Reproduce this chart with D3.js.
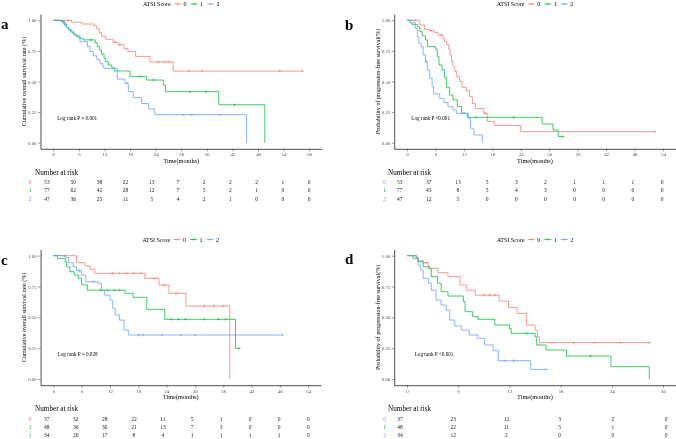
<!DOCTYPE html>
<html>
<head>
<meta charset="utf-8">
<script src="https://cdn.jsdelivr.net/npm/d3@7"></script>
<style>
  body { margin: 0; background: #fff; }
  svg { display: block; font-family: 'Liberation Serif', 'DejaVu Serif', serif; will-change: transform; }
</style>
</head>
<body>
<div id="chart-wrapper"></div>
<script>
// Groups and colours
const groups = ["0", "1", "2"]
const colors = ["#F8766D", "#00BA38", "#619CFF"]

// Panel a : overall survival, [month, survival] steps
const osA0 = [[0,1],[4.3,0.985],[6.6,0.97],[9.6,0.955],[10.2,0.93],[10.8,0.90],[11.3,0.87],[12.3,0.845],[14,0.82],[15.2,0.80],[16.6,0.77],[17.5,0.745],[19.3,0.705],[22.7,0.66],[28.1,0.585],[58.4,0.585]]
const osA1 = [[0,1],[1.95,0.99],[2.7,0.96],[3.1,0.943],[3.5,0.926],[4.1,0.907],[4.7,0.888],[5.3,0.872],[6.25,0.853],[7.0,0.84],[9.8,0.817],[10.3,0.785],[10.8,0.757],[11.3,0.725],[11.9,0.69],[12.3,0.662],[12.9,0.635],[13.7,0.613],[14.3,0.586],[18,0.54],[21.9,0.512],[25.8,0.471],[26.3,0.417],[38.8,0.31],[49.6,0]]
const osA2 = [[0,1],[1.4,0.995],[2.3,0.97],[3.1,0.943],[3.7,0.92],[4.3,0.9],[4.8,0.88],[5.6,0.86],[6.25,0.826],[8.0,0.785],[8.6,0.744],[9.4,0.71],[10.2,0.68],[10.9,0.65],[11.6,0.62],[11.9,0.607],[15,0.52],[16.8,0.485],[17.6,0.417],[18.75,0.368],[20.7,0.32],[22.3,0.275],[23.8,0.229],[45.3,0]]
const osA0Cens = [1.2,3.5,14.5,15.6,24.6,25.8,27,31.8,34.8,53.1,58.4]
const osA1Cens = [2.2,8.8,20.5,23.5,32,35.8,42.5]
const osA2Cens = [2.8,17.2,30.5,32.5,39]

// Panel b : progression-free survival
const pfsB0 = [[0,1],[2.7,0.962],[3.7,0.926],[4.8,0.915],[5.8,0.9],[6.5,0.88],[7.6,0.853],[7.9,0.826],[8.4,0.8],[8.8,0.763],[9.1,0.717],[9.4,0.662],[9.7,0.621],[10.1,0.58],[10.5,0.54],[11.1,0.5],[11.6,0.452],[12.5,0.425],[13.2,0.376],[13.8,0.32],[14.4,0.28],[16.2,0.24],[16.9,0.172],[18.5,0.14],[24,0.09],[52.3,0.09]]
const pfsB1 = [[0,1],[0.56,0.98],[1.05,0.967],[2.2,0.948],[2.7,0.907],[3.2,0.872],[3.9,0.84],[4.3,0.785],[6.0,0.763],[6.4,0.703],[6.75,0.635],[7.4,0.594],[7.9,0.534],[8.3,0.452],[9.0,0.39],[9.7,0.35],[10.6,0.294],[11.5,0.24],[12.7,0.207],[28.5,0.153],[30.8,0.104],[31.9,0.05],[32.9,0.05]]
const pfsB2 = [[0,1],[1.27,0.98],[1.76,0.935],[2.2,0.866],[2.5,0.812],[3.0,0.785],[3.4,0.717],[3.9,0.662],[4.3,0.594],[4.8,0.526],[5.3,0.458],[5.6,0.398],[6.9,0.362],[7.8,0.327],[8.65,0.294],[9.7,0.267],[10.4,0.24],[13.0,0.2],[13.4,0.117],[14.1,0.063],[15.9,0]]
const pfsB0Cens = [1.8,5.2,7.2,16.5,52.3]
const pfsB1Cens = [14.5,22.5,32.9]
const pfsB2Cens = [4.0,12.0]

// Panel c : overall survival
const osC0 = [[0,1],[4.9,0.943],[6.7,0.916],[7.8,0.889],[8.8,0.857],[19.4,0.816],[22.4,0.762],[24.5,0.695],[28.1,0.592],[37.4,0]]
const osC1 = [[0,1],[0.85,0.978],[2.5,0.951],[2.8,0.91],[3.5,0.87],[4.4,0.843],[5.3,0.816],[6.0,0.762],[7.2,0.72],[15.2,0.695],[16.9,0.662],[19.8,0.565],[23.6,0.484],[38.6,0.249],[39.4,0.249]]
const osC2 = [[0,1],[2.5,0.986],[3.2,0.943],[4.2,0.91],[4.9,0.878],[6.0,0.843],[6.9,0.789],[9.5,0.776],[10.2,0.72],[10.9,0.68],[12.0,0.64],[12.6,0.573],[13.1,0.519],[14.0,0.478],[15.0,0.397],[15.9,0.357],[48.6,0.357]]
const osC0Cens = [2.5,12.5,14,15.5,17,18.5,21.5,23.5,26,32,34,36]
const osC1Cens = [10,11.5,13,14,25,26.5,28,32,35,36.5,39.4]
const osC2Cens = [5.5,8.5,18,19,23,27,30,48.6]

// Panel d : progression-free survival
const pfsD0 = [[0,1],[1.1,0.986],[1.3,0.96],[1.9,0.943],[2.5,0.897],[3.6,0.862],[4.8,0.83],[6.2,0.762],[7.0,0.72],[8.0,0.68],[10.8,0.632],[11.9,0.58],[12.9,0.532],[14.0,0.438],[15.0,0.397],[15.3,0.343],[15.5,0.295],[28.4,0.295]]
const pfsD1 = [[0,1],[0.7,0.978],[1.3,0.95],[1.9,0.91],[2.7,0.89],[2.85,0.83],[3.6,0.776],[4.0,0.708],[4.8,0.673],[6.6,0.627],[6.8,0.546],[7.7,0.505],[8.3,0.484],[10.3,0.438],[12.0,0.41],[12.2,0.37],[15.0,0.343],[15.2,0.276],[16.3,0.235],[18.7,0.186],[23.9,0.1],[28.4,0]]
const pfsD2 = [[0,1],[1.1,0.986],[1.3,0.924],[1.6,0.884],[1.9,0.816],[2.5,0.776],[2.85,0.72],[3.4,0.64],[4.0,0.6],[4.6,0.557],[5.0,0.478],[5.6,0.43],[6.4,0.397],[7.3,0.357],[8.3,0.33],[9.1,0.276],[10.1,0.23],[10.7,0.149],[14.5,0.078],[16.3,0.078]]
const pfsD0Cens = [1.0,2.2,9,9.7,10.3,17,19.5,22,25,28.4]
const pfsD1Cens = [14.0,21.5]
const pfsD2Cens = [11.5,12.5,16.3]

// Tick labels
const ticksA = d3.range(0, 61, 6)
const ticksB = d3.range(0, 55, 6)
const ticksC = d3.range(0, 55, 6)
const ticksD = d3.range(0, 31, 6)
const yTicks = [0, 0.25, 0.5, 0.75, 1]

// Number at risk
const riskA = [[53,50,38,22,13,7,2,2,2,1,0],[77,62,42,28,12,7,5,2,1,0,0],[47,36,25,11,5,4,2,1,0,0,0]]
const riskB = [[53,37,13,5,3,2,1,1,1,0],[77,43,8,5,4,3,0,0,0,0],[47,12,5,0,0,0,0,0,0,0]]
const riskC = [[37,32,28,22,11,5,1,0,0,0],[48,36,30,21,13,7,3,0,0,0],[34,26,17,8,4,1,1,1,1,0]]
const riskD = [[37,23,12,3,2,0],[48,22,11,5,1,0],[34,12,2,0,0,0]]

const osTitle = "Cumulative overall survival rate (%)"
const pfsTitle = "Probability of progression-free survival(%)"

// Panel layout
const panels = [
  {letter:"a", curves:[osA0,osA1,osA2], cens:[osA0Cens,osA1Cens,osA2Cens], ticks:ticksA, risk:riskA,
   yTitle:osTitle, pText:"Log rank P = 0.001", xDom:[-3,63], xRange:[40.5,322], yRange:[148.8,14.2],
   legendY:4, letterX:1, letterY:29, tableX:[47,309], groupX:30, riskTitle:[35,175], rows:[183.5,192,200.5]},
  {letter:"b", curves:[pfsB0,pfsB1,pfsB2], cens:[pfsB0Cens,pfsB1Cens,pfsB2Cens], ticks:ticksB, risk:riskB,
   yTitle:pfsTitle, pText:"Log rank P <0.001", xDom:[-2.7,56.7], xRange:[394.2,675.8], yRange:[148.8,14.2],
   legendY:4, letterX:345, letterY:29.5, tableX:[399.7,662], groupX:384.7, riskTitle:[388,175], rows:[183.5,192,200.5]},
  {letter:"c", curves:[osC0,osC1,osC2], cens:[osC0Cens,osC1Cens,osC2Cens], ticks:ticksC, risk:riskC,
   yTitle:osTitle, pText:"Log rank P = 0.028", xDom:[-2.7,56.7], xRange:[40.6,320.9], yRange:[385.2,249.5],
   legendY:239.5, letterX:1, letterY:264.5, tableX:[46.7,308.3], groupX:30, riskTitle:[35,411], rows:[420.5,428.8,437]},
  {letter:"d", curves:[pfsD0,pfsD1,pfsD2], cens:[pfsD0Cens,pfsD1Cens,pfsD2Cens], ticks:ticksD, risk:riskD,
   yTitle:pfsTitle, pText:"Log rank P <0.001", xDom:[-1.5,31.5], xRange:[394.2,675.8], yRange:[385.2,249.5],
   legendY:239.5, letterX:345, letterY:264, tableX:[400,666], groupX:384.7, riskTitle:[388,411], rows:[420.5,428.8,437]}
]

const font = "'Liberation Serif', 'DejaVu Serif', serif"
const width = 676
const height = 439

const svg = d3.select("#chart-wrapper")
  .append("svg")
  .attr("width", width)
  .attr("height", height)

// survival value at time t from a step list
const survAt = (steps, t) => {
  let s = steps[0][1]
  steps.forEach(d => { if (d[0] <= t) s = d[1] })
  return s
}

const drawCross = (g, cx, cy, color) => {
  const r = 1.4
  g.append("path")
    .attr("d", `M${cx - r},${cy}H${cx + r}M${cx},${cy - r}V${cy + r}`)
    .attr("stroke", color)
    .attr("stroke-width", 0.5)
    .attr("fill", "none")
}

const drawPanel = (p) => {
  const g = svg.append("g")
  const x = d3.scaleLinear().domain(p.xDom).range(p.xRange)
  const y = d3.scaleLinear().domain([-0.05, 1.05]).range(p.yRange)
  const left = p.xRange[0]
  const bottom = p.yRange[0]
  const top = p.yRange[1]

  // Curves
  const line = d3.line().x(d => x(d[0])).y(d => y(d[1])).curve(d3.curveStepAfter)
  p.curves.forEach((c, i) => {
    g.append("path")
      .datum(c)
      .attr("d", line)
      .attr("fill", "none")
      .attr("stroke", colors[i])
      .attr("stroke-width", 0.75)
    p.cens[i].forEach(t => drawCross(g, x(t), y(survAt(c, t)), colors[i]))
  })

  // Axes
  const xAxis = g.append("g")
    .attr("transform", `translate(0,${bottom})`)
    .call(d3.axisBottom(x).tickValues(p.ticks).tickSizeInner(2.5).tickSizeOuter(0).tickPadding(1.5))
  const yAxis = g.append("g")
    .attr("transform", `translate(${left},0)`)
    .call(d3.axisLeft(y).tickValues(yTicks).tickFormat(d3.format(".2f")).tickSizeInner(2.5).tickSizeOuter(0).tickPadding(1.5))
  ;[xAxis, yAxis].forEach(a => {
    a.selectAll("text").attr("font-size", 4.8).attr("fill", "#4d4d4d").attr("font-family", font)
    a.selectAll("line").attr("stroke", "#333").attr("stroke-width", 0.5)
    a.select(".domain").attr("stroke", "#222").attr("stroke-width", 0.8)
  })

  // Axis titles
  g.append("text")
    .attr("x", (p.xRange[0] + p.xRange[1]) / 2)
    .attr("y", bottom + 14)
    .attr("text-anchor", "middle")
    .attr("font-size", 6.3)
    .text("Time(months)")
  g.append("text")
    .attr("transform", `translate(${left - 14.5},${(top + bottom) / 2}) rotate(-90)`)
    .attr("text-anchor", "middle")
    .attr("font-size", 6.1)
    .text(p.yTitle)

  // Log rank text
  g.append("text")
    .attr("x", x(0.9))
    .attr("y", y(0.2) + 1.8)
    .attr("font-size", 5.2)
    .text(p.pText)

  // Panel letter
  g.append("text")
    .attr("x", p.letterX)
    .attr("y", p.letterY)
    .attr("font-size", 15)
    .attr("font-weight", "bold")
    .text(p.letter)

  // Legend
  const leg = g.append("g")
  const lt = leg.append("text")
    .attr("x", 0).attr("y", 0)
    .attr("dy", "0.35em")
    .attr("font-size", 6)
    .text("ATSI Score")
  let cx = lt.node().getBBox().width + 3
  groups.forEach((k, i) => {
    leg.append("line")
      .attr("x1", cx).attr("x2", cx + 7)
      .attr("y1", 0).attr("y2", 0)
      .attr("stroke", colors[i]).attr("stroke-width", 0.75)
    drawCross(leg, cx + 3.5, 0, colors[i])
    const t = leg.append("text")
      .attr("x", cx + 9.5).attr("y", 0)
      .attr("dy", "0.35em")
      .attr("font-size", 6)
      .text(k)
    cx += 9.5 + t.node().getBBox().width + 4
  })
  const legW = cx - 4
  leg.attr("transform", `translate(${(p.xRange[0] + p.xRange[1]) / 2 - legW / 2},${p.legendY})`)

  // Risk table
  g.append("text")
    .attr("x", p.riskTitle[0])
    .attr("y", p.riskTitle[1])
    .attr("font-size", 7.2)
    .text("Number at risk")
  const tx = d3.scaleLinear()
    .domain([p.ticks[0], p.ticks[p.ticks.length - 1]])
    .range(p.tableX)
  p.risk.forEach((row, i) => {
    g.append("text")
      .attr("x", p.groupX)
      .attr("y", p.rows[i])
      .attr("text-anchor", "middle")
      .attr("font-size", 5.5)
      .attr("fill", colors[i])
      .text(groups[i])
    g.selectAll(null)
      .data(row)
      .enter()
      .append("text")
      .attr("x", (d, j) => tx(p.ticks[j]))
      .attr("y", p.rows[i])
      .attr("text-anchor", "middle")
      .attr("font-size", 5.5)
      .attr("fill", "#222")
      .text(d => d)
  })
}

panels.forEach(drawPanel)
</script>
</body>
</html>
